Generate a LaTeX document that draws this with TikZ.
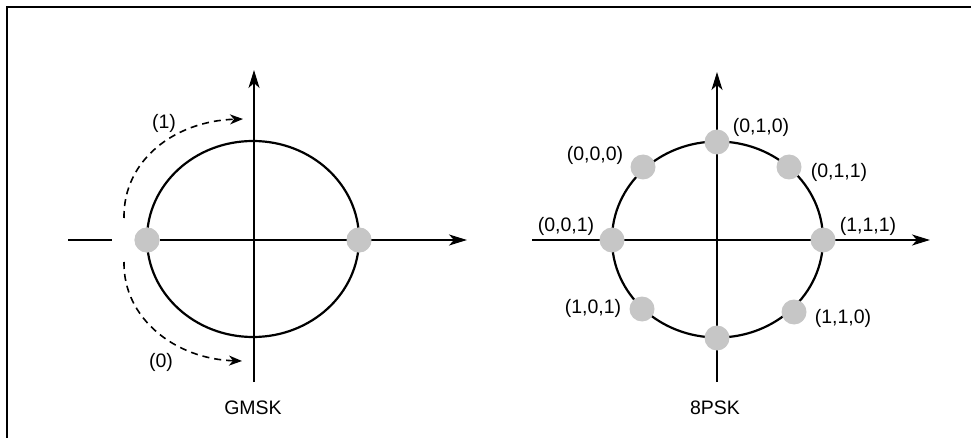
\documentclass[tikz,border=0pt]{standalone}
\usepackage{fontspec}
\setmainfont{Liberation Sans}
\usetikzlibrary{arrows.meta}
\definecolor{dotgray}{HTML}{C6C6C6}
\begin{document}
\begin{tikzpicture}[x=1pt,y=-1pt,
  axis/.style={line width=1.7pt,-{Stealth[length=18pt,width=11pt,inset=5pt]}},
  plainaxis/.style={line width=1.7pt},
  ring/.style={line width=2.2pt},
  dot/.style={circle,fill=dotgray,inner sep=0pt,minimum size=25pt},
  lbl/.style={font=\fontsize{19.5}{19.5}\selectfont,inner sep=0pt},
  dasharrow/.style={line width=1.6pt,dash pattern=on 7pt off 5pt,-{Stealth[length=13pt,width=10pt,inset=4pt]}}]
\useasboundingbox (0,0) rectangle (971,438);
\draw[line width=1.8pt] (971,7) -- (7,7) -- (7,438);

% ---------- GMSK ----------
\coordinate (gL) at (68,240);
\coordinate (gLg) at (112,240);
\coordinate (gR) at (467,240);
\coordinate (gT) at (254,70);
\coordinate (gB) at (254,382);
\draw[ring] (253,239) ellipse [x radius=106, y radius=98];
\draw[plainaxis] (gL) -- (gLg);
\node[dot] (g0) at (147,240) {};
\node[dot] (g1) at (359,240) {};
\draw[axis] (g0.east) -- (gR);
\draw[axis] (gB) -- (gT);
\fill[dotgray] (g0) circle (12.5);
\fill[dotgray] (g1) circle (12.5);
\coordinate (u0) at (124,218);
\coordinate (u1) at (243,119);
\coordinate (d0) at (124,262);
\coordinate (d1) at (242,361);
\draw[dasharrow] (u0) .. controls (123,160) and (175,121) .. (u1);
\draw[dasharrow] (d0) .. controls (123,318) and (175,359) .. (d1);
\node[lbl] (t1) at (164,123) {(1)};
\node[lbl] (t0) at (161,362) {(0)};
\node[lbl] (gmsk) at (253,408) {GMSK};

% ---------- 8PSK ----------
\coordinate (pL) at (532,240);
\coordinate (pR) at (930,240);
\coordinate (pT) at (717,72);
\coordinate (pB) at (717,382);
\draw[ring] (717.5,239.5) ellipse [x radius=105.5, y radius=98];
\draw[axis] (pL) -- (pR);
\draw[axis] (pB) -- (pT);
\node[dot] (p010) at (717,142) {};
\node[dot] (p000) at (643,167) {};
\node[dot] (p011) at (789,167) {};
\node[dot] (p001) at (612,240) {};
\node[dot] (p111) at (823,240) {};
\node[dot] (p101) at (642,309) {};
\node[dot] (p110) at (794,312) {};
\node[dot] (p100) at (717,338) {};
\node[lbl] at (761,127) {(0,1,0)};
\node[lbl] at (595,155) {(0,0,0)};
\node[lbl] at (839,172) {(0,1,1)};
\node[lbl] at (566,226) {(0,0,1)};
\node[lbl] at (868,226) {(1,1,1)};
\node[lbl] at (593,308) {(1,0,1)};
\node[lbl] at (843,318) {(1,1,0)};
\node[lbl] (psk) at (715,408) {8PSK};
\end{tikzpicture}
\end{document}
